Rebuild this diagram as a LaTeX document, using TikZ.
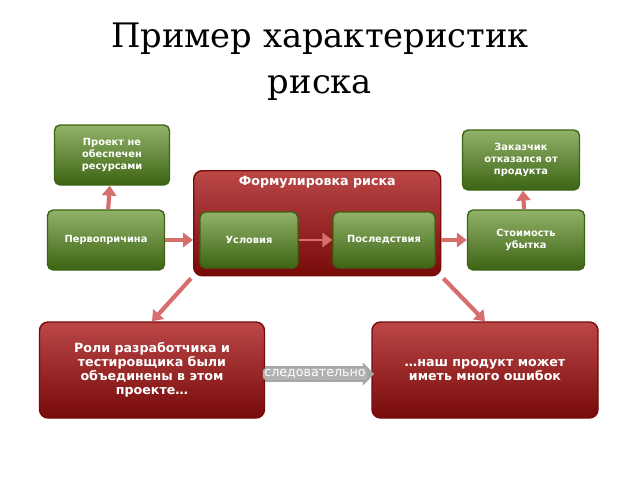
\documentclass[tikz,border=0pt]{standalone}
\usepackage{fontspec}
\setmainfont{DejaVu Sans}
\newfontfamily\titlefont{DejaVu Serif}
\usetikzlibrary{arrows.meta, positioning}
\definecolor{grn}{RGB}{98,145,40}
\definecolor{grnd}{RGB}{60,100,20}
\definecolor{rd}{RGB}{170,25,25}
\definecolor{rdd}{RGB}{120,10,10}
\definecolor{arr}{RGB}{215,110,110}
\tikzstyle{green box} = [rectangle, rounded corners=4pt, draw=grnd, line width=1pt, top color=grn!70!white, bottom color=grnd, text=white, font=\bfseries\fontsize{7}{8.5}\selectfont, align=center, inner sep=2pt]
\tikzstyle{red box} = [rectangle, rounded corners=6pt, draw=rdd, line width=1pt, top color=rd!80!white, bottom color=rdd, text=white, font=\bfseries\fontsize{9}{10}\selectfont, align=center]
\tikzstyle{fat arrow} = [draw=arr, line width=3pt, -{Triangle[length=7pt, width=10pt]}]
\begin{document}
\begin{tikzpicture}[x=0.025cm, y=-0.025cm]
\useasboundingbox (0,0) rectangle (640,480);
\node (title) at (320,62) [align=center, font=\titlefont\fontsize{24}{33}\selectfont] {Пример характеристик\\риска};

\node (risk) [red box, minimum width=247*0.025cm, minimum height=105*0.025cm, anchor=north west, text depth=60pt] at (193,170) {Формулировка риска};
\node (cond) [green box, minimum width=98*0.025cm, minimum height=56*0.025cm] at (249,240) {Условия};
\node (cons) [green box, minimum width=102*0.025cm, minimum height=56*0.025cm] at (384,240) {Последствия};
\node (cause) [green box, minimum width=117*0.025cm, minimum height=60*0.025cm] at (106,240) {Первопричина};
\node (nores) [green box, minimum width=115*0.025cm, minimum height=60*0.025cm] at (112,155) {Проект не\\обеспечен\\ресурсами};
\node (loss) [green box, minimum width=117*0.025cm, minimum height=60*0.025cm] at (526,240) {Стоимость\\убытка};
\node (refuse) [green box, minimum width=117*0.025cm, minimum height=60*0.025cm] at (521,160) {Заказчик\\отказался от\\продукта};
\node (roles) [red box, minimum width=225*0.025cm, minimum height=96*0.025cm] at (152,370) {Роли разработчика и\\тестировщика были\\объединены в этом\\проекте…};
\node (bugs) [red box, minimum width=226*0.025cm, minimum height=96*0.025cm] at (485,370) {…наш продукт может\\иметь много ошибок};

\draw[fat arrow] (cause) -- (nores);
\draw[fat arrow] (cause) -- (cause -| risk.west);
\draw[fat arrow, line width=2pt] (cond) -- (cons);
\draw[fat arrow] (cons -| risk.east) -- (loss);
\draw[fat arrow] (loss) -- (refuse);
\draw[fat arrow] (risk.south west) ++(-2,2) coordinate (rl) -- (roles.north);
\draw[fat arrow] (risk.south east) ++(2,2) coordinate (rr) -- (bugs.north);
\draw[draw=gray!70, line width=12pt, -{Triangle[length=8pt, width=16pt]}, shorten >=-2pt] (roles.east) ++(0,4) coordinate (fs) -- (fs -| bugs.west);
\node (hence) [fill=gray!60, text=white, rounded corners=2pt, font=\fontsize{9}{10}\selectfont, inner sep=1pt] at (315,374) {следовательно};
\end{tikzpicture}
\end{document}
